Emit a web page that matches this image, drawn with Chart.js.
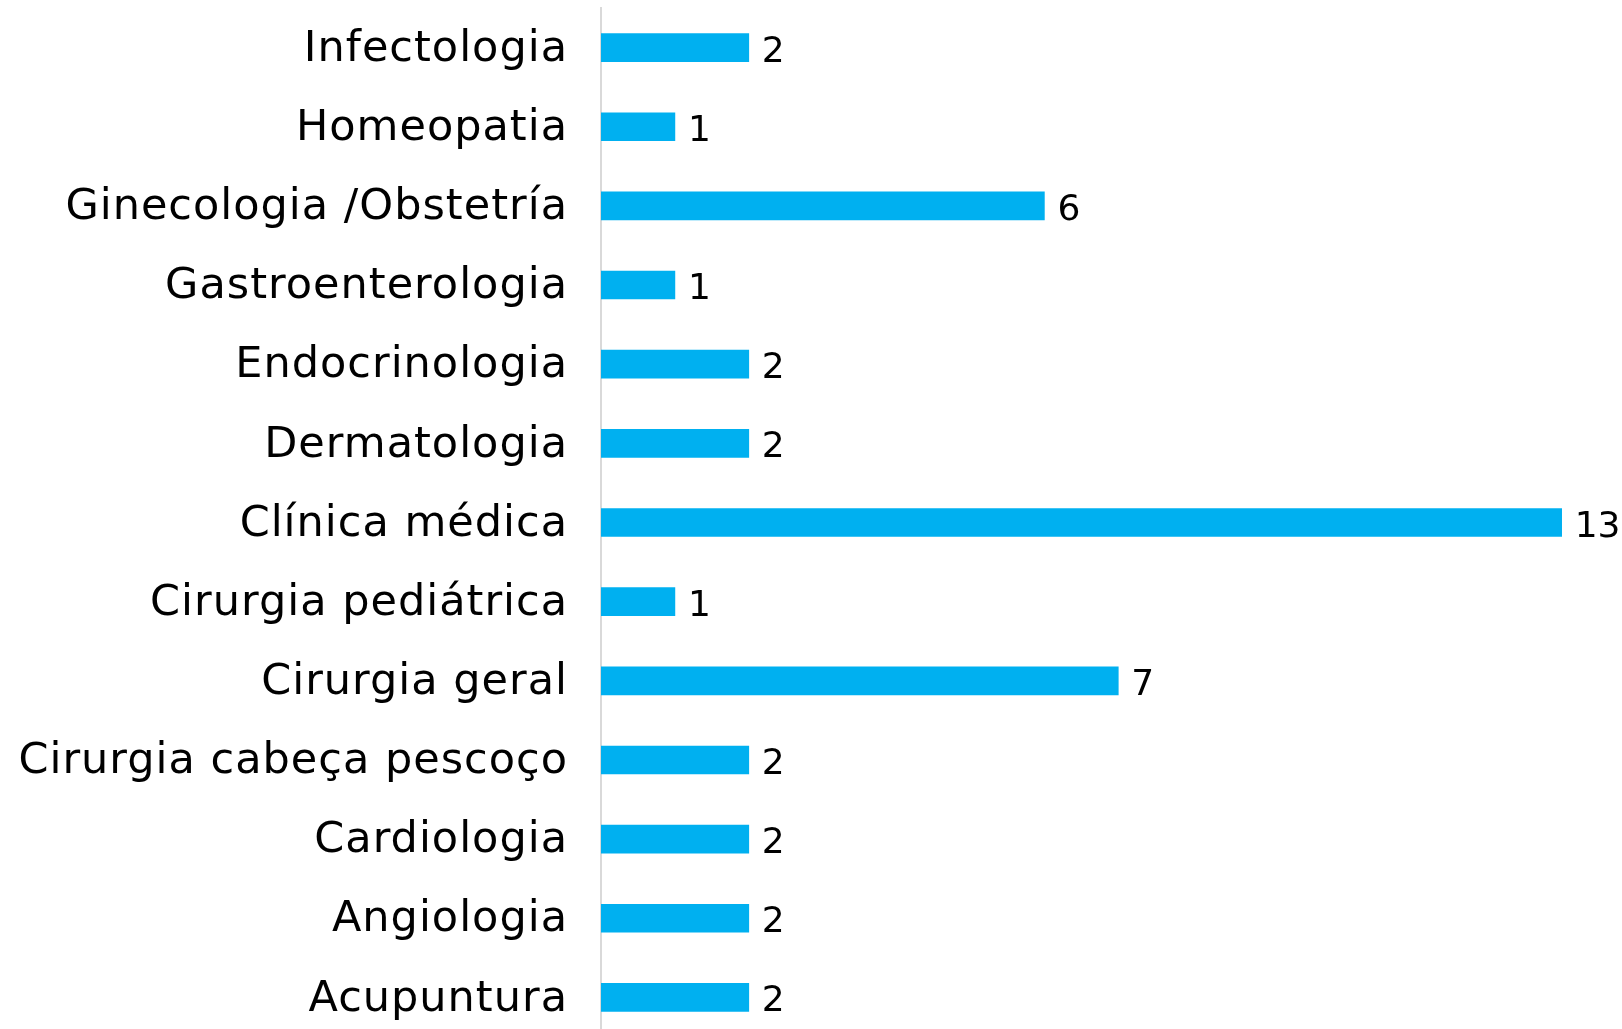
<!DOCTYPE html>
<html>
<head>
<meta charset="utf-8">
<script src="https://cdn.jsdelivr.net/npm/chart.js@4"></script>
<style>
  html, body { margin: 0; padding: 0; background: #fff; overflow: hidden; }
</style>
</head>
<body>
<canvas id="mycanvas" width="1622" height="1037"></canvas>
<script>
var especialidades = ["Infectologia", "Homeopatia", "Ginecologia /Obstetría", "Gastroenterologia",
  "Endocrinologia", "Dermatologia", "Clínica médica", "Cirurgia pediátrica", "Cirurgia geral",
  "Cirurgia cabeça pescoço", "Cardiologia", "Angiologia", "Acupuntura"];
var total = [2, 1, 6, 1, 2, 2, 13, 1, 7, 2, 2, 2, 2];

var fontFamily = "'DejaVu Sans', sans-serif";

// draws the value next to each bar
var valueLabels = {
  id: 'valueLabels',
  afterDatasetsDraw: function(chart) {
    var ctx = chart.ctx;
    var meta = chart.getDatasetMeta(0);
    ctx.save();
    ctx.letterSpacing = "0px";
    ctx.font = "36px " + fontFamily;
    ctx.fillStyle = "#000";
    ctx.textAlign = "left";
    ctx.textBaseline = "alphabetic";
    meta.data.forEach(function(bar, i) {
      ctx.fillText(total[i], bar.x + 13, bar.y + 14);
    });
    ctx.restore();
  }
};

// a little letter spacing for the category labels
var spacing = {
  id: 'spacing',
  beforeDraw: function(chart) { chart.ctx.letterSpacing = "1px"; },
  afterDraw: function(chart) { chart.ctx.letterSpacing = "0px"; }
};

var ctx = document.getElementById("mycanvas");
var barGraph = new Chart(ctx, {
  type: 'bar',
  data: {
    labels: especialidades,
    datasets: [{
      data: total,
      backgroundColor: "#00B0F0",
      barThickness: 28
    }]
  },
  options: {
    indexAxis: 'y',
    responsive: false,
    animation: false,
    layout: { padding: { top: 8, right: 16, bottom: 0, left: 0 } },
    plugins: { legend: { display: false }, tooltip: { enabled: false } },
    scales: {
      x: {
        display: false,
        min: 0,
        max: 13.6
      },
      y: {
        grid: { display: true, drawOnChartArea: false, drawTicks: true, tickLength: 33, color: "rgba(0,0,0,0)" },
        border: { display: true, color: "#d9d9d9", width: 2 },
        ticks: { color: "#000", font: { family: fontFamily, size: 43 }, padding: 0, labelOffset: 2 },
        afterFit: function(scale) {
          scale.width = 601;
          scale.paddingTop = 0;
          scale.paddingBottom = 0;
        }
      }
    }
  },
  plugins: [spacing, valueLabels]
});
</script>
</body>
</html>
